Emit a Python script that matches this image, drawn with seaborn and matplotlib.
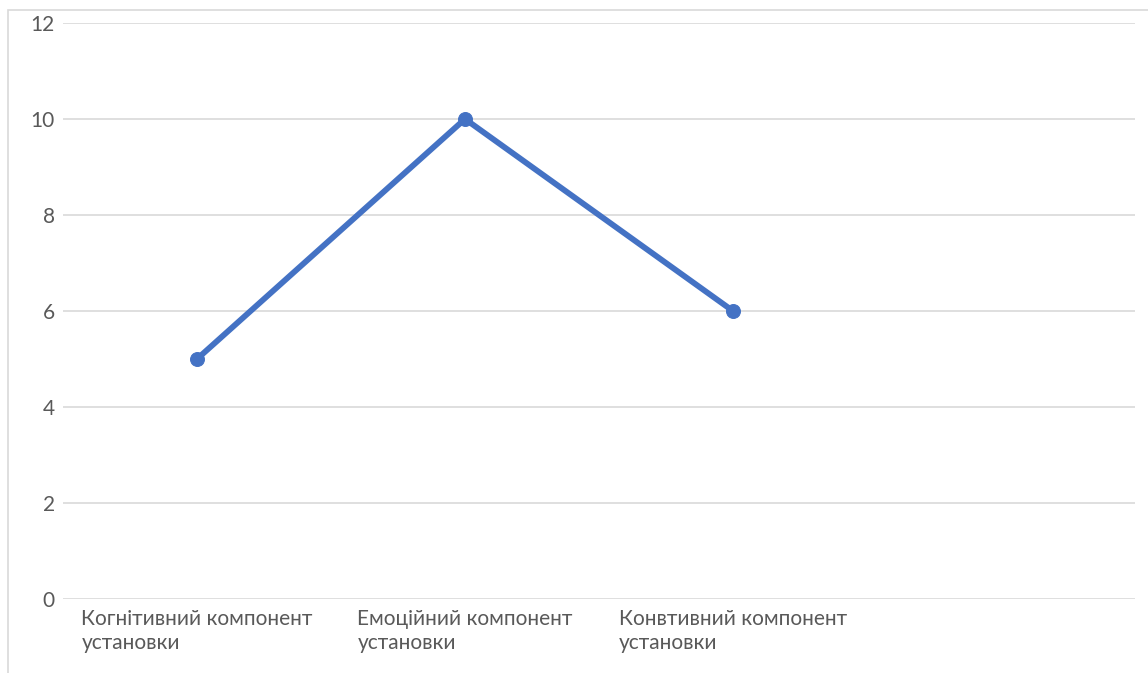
import matplotlib
matplotlib.use("Agg")
import matplotlib.pyplot as plt
from matplotlib.patches import Rectangle
import seaborn as sns
import pandas as pd

categories = [
    "Когнітивний компонент\nустановки",
    "Емоційний компонент\nустановки",
    "Конвтивний компонент\nустановки",
    "",
]
values = [5, 10, 6]
y_ticks = [0, 2, 4, 6, 8, 10, 12]

sns.set_theme(style="white")
plt.rcParams["font.family"] = ["Lato", "DejaVu Sans"]

W, H = 1148, 673
fig = plt.figure(figsize=(W / 100, H / 100), dpi=100)
ax = fig.add_axes([63 / W, 1 - 599 / H, (1135 - 63) / W, (599 - 23) / H])

df = pd.DataFrame({"pos": list(range(len(values))), "value": values})
sns.lineplot(data=df, x="pos", y="value", ax=ax, color="#4472C4",
             linewidth=4.2, marker="o", markersize=10,
             markeredgecolor="#4472C4", markerfacecolor="#4472C4")

ax.set_xlim(-0.5, len(categories) - 0.5)
ax.set_ylim(y_ticks[0], y_ticks[-1])
ax.set_yticks(y_ticks)
ax.set_yticklabels([str(t) for t in y_ticks])
ax.set_xticks(range(len(categories)))
ax.set_xticklabels(categories, multialignment="left", linespacing=1.25)
ax.set_xlabel("")
ax.set_ylabel("")

ax.yaxis.grid(True, color="#d9d9d9", linewidth=1.2)
ax.xaxis.grid(False)
for s in ax.spines.values():
    s.set_visible(False)
ax.tick_params(axis="both", length=0, colors="#595959", labelsize=15)
ax.tick_params(axis="y", pad=6)
ax.tick_params(axis="x", pad=7)
ax.set_axisbelow(True)

# chart area frame
fig.patches.append(Rectangle((8 / W, -0.1), 1.2, 1 - 10 / H + 0.1,
                             transform=fig.transFigure, fill=False,
                             edgecolor="#d9d9d9", linewidth=1.2))

fig.savefig("out.png", dpi=100, facecolor="white")
